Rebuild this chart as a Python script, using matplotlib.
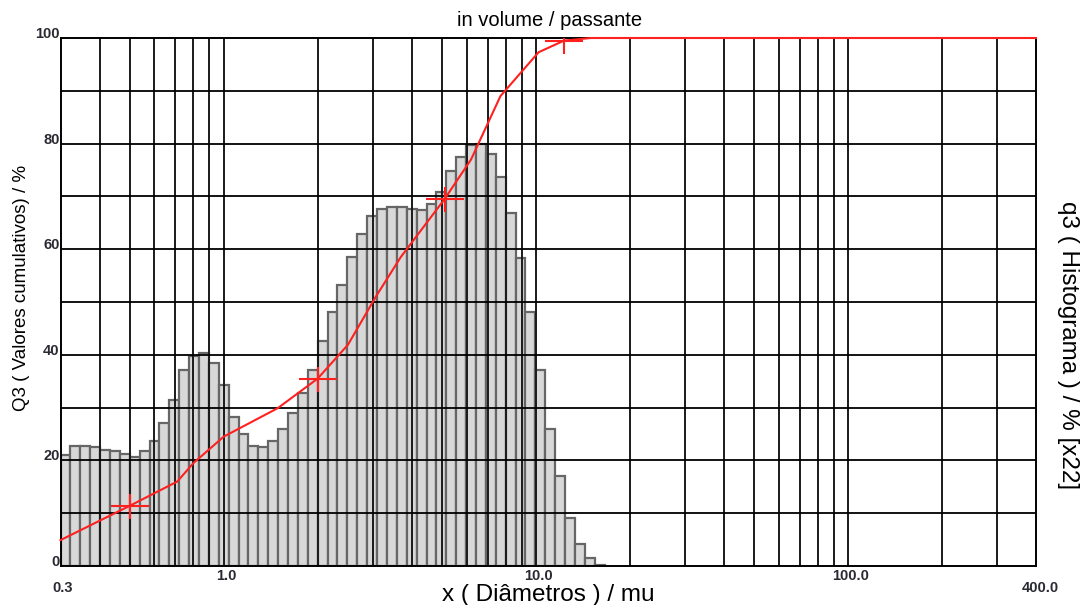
import numpy as np
import matplotlib
matplotlib.use("Agg")
import matplotlib.pyplot as plt
import matplotlib.transforms as mtransforms

plt.rcParams['font.family'] = ['Liberation Sans', 'DejaVu Sans']

# ---- data ----
bin_start, bin_end, n_bins = 0.3, 16.6, 55
hist_q3 = [21.0, 22.7, 22.7, 22.5, 22.0, 21.7, 21.3, 20.7, 21.7, 23.7,
           27.1, 31.4, 37.1, 39.8, 40.4, 38.4, 34.3, 28.2, 25.0, 22.7,
           22.5, 23.7, 25.9, 29.0, 32.8, 37.1, 42.6, 48.1, 53.2, 58.5,
           62.8, 66.2, 67.6, 67.9, 67.9, 67.6, 67.4, 68.6, 70.9, 74.9,
           77.5, 79.7, 80.0, 78.0, 73.7, 66.8, 58.3, 48.2, 37.2, 25.9,
           17.0, 9.0, 4.1, 1.6, 0.2]
cum_x = [0.3, 0.5, 0.71, 0.80, 1.0, 1.49, 2.0, 2.5, 3.07, 3.69, 5.1,
         6.2, 7.7, 10.2, 12.3, 15.0, 400.0]
cum_Q3 = [4.9, 11.4, 16.0, 19.5, 24.5, 29.9, 35.5, 41.9, 51.0, 58.5, 69.5,
          77.0, 89.0, 97.3, 99.5, 100.0, 100.0]
marker_x = [0.5, 2.0, 5.1, 12.3]
marker_Q3 = [11.4, 35.5, 69.5, 99.5]

grid_x = [0.4, 0.5, 0.6, 0.7, 0.8, 0.9, 1, 2, 3, 4, 5, 6, 7, 8, 9, 10,
          20, 30, 40, 50, 60, 70, 80, 90, 100, 200, 300]
grid_y = [10, 20, 30, 40, 50, 60, 70, 80, 90]
xtick_vals = [0.3, 1.0, 10.0, 100.0, 400.0]
xtick_labels = ["0.3", "1.0", "10.0", "100.0", "400.0"]
ytick_vals = [0, 20, 40, 60, 80, 100]

# ---- figure ----
W, H, DPI = 1083, 605, 100
fig = plt.figure(figsize=(W / DPI, H / DPI), dpi=DPI)
L, R, T, B = 60.5, 1036, 38, 566
ax = fig.add_axes([L / W, (H - B) / H, (R - L) / W, (B - T) / H])
ax.set_xscale('log')
ax.set_xlim(0.3, 400)
ax.set_ylim(0, 100)

edges = np.geomspace(bin_start, bin_end, n_bins + 1)
ax.bar(edges[:-1], hist_q3, width=np.diff(edges), align='edge',
       color='#d8d8d8', edgecolor='#666666', linewidth=1.6, zorder=1)

for gx in grid_x:
    ax.axvline(gx, color='#1a1a1a', lw=1.4, zorder=2)
for gy in grid_y:
    ax.axhline(gy, color='#000000', lw=1.3, zorder=2)

ax.plot(cum_x, cum_Q3, color='#ff2020', lw=1.5, zorder=4, clip_on=False)
ax.plot(marker_x, marker_Q3, linestyle='none', marker='_', ms=28,
        mew=1.5, color='#ff2020', zorder=4)
ax.plot(marker_x, marker_Q3, linestyle='none', marker='|', ms=18,
        mew=1.5, color='#ff2020', zorder=4)

ax.set_xticks([])
ax.set_yticks([])
ax.minorticks_off()
for s in ax.spines.values():
    s.set_color('#000000')
    s.set_linewidth(1.4)

# x tick labels
bt = mtransforms.blended_transform_factory(ax.transData, ax.transAxes)
for v, lab in zip(xtick_vals, xtick_labels):
    dy = -22 if v in (0.3, 400.0) else -10
    dx = 4 if v == 400.0 else (2 if v == 0.3 else 3)
    tr = mtransforms.offset_copy(bt, fig=fig, x=dx, y=dy, units='dots')
    ax.text(v, 0, lab, transform=tr, ha='center', va='center',
            fontsize=10.5, fontweight='bold', color='#2a2a33')

# y tick labels
bt2 = mtransforms.blended_transform_factory(ax.transAxes, ax.transData)
for v in ytick_vals:
    tr = mtransforms.offset_copy(bt2, fig=fig, x=-1, y=4, units='dots')
    ax.text(0, v, str(v), transform=tr, ha='right', va='center',
            fontsize=10.5, fontweight='bold', color='#2a2a33')

fig.text(550 / W, 1 - 20 / H, "in volume / passante", ha='center', va='center',
         fontsize=14.5)
fig.text(548 / W, 1 - 595 / H, "x ( Diâmetros ) / mu", ha='center', va='center',
         fontsize=17.5)
fig.text(22 / W, 1 - 288 / H, "Q3 ( Valores cumulativos) / %", rotation=90,
         ha='center', va='center', fontsize=13.5)
fig.text(1068 / W, 1 - 345 / H, "q3 ( Histograma ) / % [x22]", rotation=270,
         ha='center', va='center', fontsize=17.5)

fig.savefig("out.png", dpi=DPI)
